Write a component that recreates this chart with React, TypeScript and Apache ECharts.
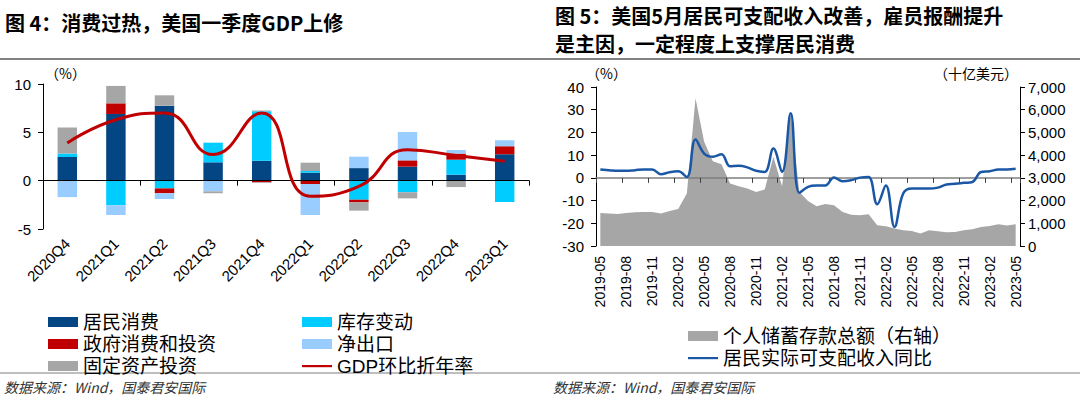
import React, { useEffect, useRef } from "react";
import * as echarts from "echarts";

// ---------- Left chart data (图4) ----------
const quarters = ["2020Q4", "2021Q1", "2021Q2", "2021Q3", "2021Q4", "2022Q1", "2022Q2", "2022Q3", "2022Q4", "2023Q1"];
const consumption = [2.45, 6.9, 7.76, 1.9, 2.07, 0.83, 1.3, 1.45, 0.62, 2.72];
const inventory = [0.35, -2.55, -0.8, 2.03, 5.1, 0.17, -1.97, -1.2, 1.55, -2.2];
const government = [0, 1.1, -0.5, 0, -0.2, -0.35, -0.27, 0.65, 0.63, 0.83];
const netExports = [-1.7, -1.0, -0.6, -1.1, -0.05, -3.2, 1.18, 2.93, 0.37, 0.62];
const fixedInvestment = [2.7, 1.8, 1.07, -0.2, 0.08, 0.86, -0.86, -0.63, -0.66, 0];
const gdpAnnualized = [3.9, 6.3, 7.0, 2.7, 7.0, -1.6, -0.6, 3.2, 2.6, 2.0];

// ---------- Right chart data (图5) ----------
const months = [
  "2019-05", "2019-06", "2019-07", "2019-08", "2019-09", "2019-10", "2019-11", "2019-12",
  "2020-01", "2020-02", "2020-03", "2020-04", "2020-05", "2020-06", "2020-07", "2020-08",
  "2020-09", "2020-10", "2020-11", "2020-12", "2021-01", "2021-02", "2021-03", "2021-04",
  "2021-05", "2021-06", "2021-07", "2021-08", "2021-09", "2021-10", "2021-11", "2021-12",
  "2022-01", "2022-02", "2022-03", "2022-04", "2022-05", "2022-06", "2022-07", "2022-08",
  "2022-09", "2022-10", "2022-11", "2022-12", "2023-01", "2023-02", "2023-03", "2023-04",
  "2023-05",
];
const savings = [
  1456, 1426, 1410, 1456, 1485, 1500, 1500, 1426, 1544, 1630, 2310, 6500, 4590, 3735, 3600, 2750,
  2630, 2530, 2380, 2485, 3930, 2630, 5840, 2380, 1985, 1750, 1850, 1795, 1500, 1380, 1350, 1400,
  910, 870, 765, 690, 660, 545, 690, 650, 600, 620, 690, 735, 840, 880, 955, 900, 955,
];
const realIncomeYoY = [
  3.7, 3.4, 3.1, 3.1, 3.4, 3.7, 3.7, 1.6, 2.5, 2.9, 0.4, 16.9, 10.7, 9.3, 10.4, 5.1,
  5.3, 4.6, 3.1, 2.6, 12.9, 2.6, 28.4, -6.6, -4.0, -3.4, -3.4, 0.15, -1.5, -1.0, 0.1, 0.4,
  -11.6, -3.4, -21.6, -6.9, -4.7, -4.7, -4.7, -4.3, -2.9, -2.6, -2.2, -1.8, 2.6, 2.9, 3.7, 3.7, 4.0,
];

const leftTicks = { min: -5, max: 10, interval: 5 };
const rightLeftTicks = { min: -30, max: 40, interval: 10 };
const rightRightTicks = { min: 0, max: 7000, interval: 1000 };

const NUM_FONT = "'Liberation Sans', Arial, sans-serif";
const CJK_FONT = "'Noto Sans CJK SC', sans-serif";
const LEGEND_FONT = "'Liberation Sans', 'Noto Sans CJK SC', sans-serif";

const C_CONS = "#044583";
const C_INV = "#00CCFF";
const C_GOV = "#C00000";
const C_NX = "#99CCFF";
const C_FIX = "#A6A6A6";
const C_GDP = "#C00000";
const C_SAVE = "#A6A6A6";
const C_INC = "#1A58A6";

// thin line legend icon (bounding box kept at 30x10 by the extra moveTo points)
const LINE_ICON = "path://M0,0 M30,10 M0,4 L30,4 L30,6.2 L0,6.2 Z";

export default function App() {
  const ref = useRef<HTMLDivElement>(null);

  useEffect(() => {
    if (!ref.current) return;
    const chart = echarts.init(ref.current, undefined, { renderer: "svg" });

    const axisLabelNum = { color: "#000", fontSize: 15, fontFamily: NUM_FONT };
    const legendText = { fontSize: 19, lineHeight: 20, color: "#000", fontFamily: LEGEND_FONT };

    const option: any = {
      animation: false,
      backgroundColor: "#fff",
      grid: [
        { left: 43, top: 84, width: 486, height: 145 },
        { left: 596, top: 87, width: 424, height: 159 },
      ],
      xAxis: [
        {
          type: "category", gridIndex: 0, data: quarters, position: "bottom",
          axisLine: { onZero: true, lineStyle: { color: "#000", width: 1.2 } },
          axisTick: { show: true, length: 5, lineStyle: { color: "#000" } },
          axisLabel: { show: false },
          z: 3,
        },
        {
          type: "category", gridIndex: 0, data: quarters, position: "bottom",
          axisLine: { show: false, onZero: false },
          axisTick: { show: false },
          axisLabel: { rotate: 45, margin: 12, interval: 0, ...axisLabelNum },
        },
        {
          type: "category", gridIndex: 1, data: months, position: "bottom",
          axisLine: { onZero: true, onZeroAxisIndex: 1, lineStyle: { color: "#7f7f7f", width: 1.5 } },
          axisTick: { show: true, interval: 2, length: 5, lineStyle: { color: "#404040" } },
          axisLabel: { show: false },
          z: 3,
        },
        {
          type: "category", gridIndex: 1, data: months, position: "bottom",
          axisLine: { show: false, onZero: false },
          axisTick: { show: false },
          axisLabel: { rotate: 90, margin: 10, interval: 2, color: "#000", fontSize: 14, fontFamily: NUM_FONT },
        },
      ],
      yAxis: [
        {
          type: "value", gridIndex: 0, ...leftTicks,
          axisLine: { show: true, lineStyle: { color: "#000" } },
          axisTick: { show: true, length: 5, lineStyle: { color: "#000" } },
          axisLabel: { margin: 12, ...axisLabelNum },
          splitLine: { show: false },
        },
        {
          type: "value", gridIndex: 1, position: "left", ...rightLeftTicks,
          axisLine: { show: true, lineStyle: { color: "#000" } },
          axisTick: { show: true, length: 5, lineStyle: { color: "#000" } },
          axisLabel: { margin: 12, ...axisLabelNum },
          splitLine: { show: false },
        },
        {
          type: "value", gridIndex: 1, position: "right", ...rightRightTicks,
          axisLine: { show: true, lineStyle: { color: "#000" } },
          axisTick: { show: true, length: 5, lineStyle: { color: "#000" } },
          axisLabel: {
            margin: 8, ...axisLabelNum,
            formatter: (v: number) => v.toLocaleString("en-US"),
          },
          splitLine: { show: false },
        },
      ],
      legend: [
        {
          orient: "vertical", left: 43, top: 307, itemWidth: 30, itemHeight: 10, itemGap: 2,
          selectedMode: false, textStyle: legendText,
          data: [
            { name: "居民消费", icon: "rect" },
            { name: "政府消费和投资", icon: "rect" },
            { name: "固定资产投资", icon: "rect" },
          ],
        },
        {
          orient: "vertical", left: 297, top: 307, itemWidth: 30, itemHeight: 10, itemGap: 2,
          selectedMode: false, textStyle: legendText,
          data: [
            { name: "库存变动", icon: "rect" },
            { name: "净出口", icon: "rect" },
            { name: "GDP环比折年率", icon: LINE_ICON },
          ],
        },
        {
          orient: "vertical", left: 683, top: 321, itemWidth: 30, itemHeight: 10, itemGap: 2,
          selectedMode: false, textStyle: legendText,
          data: [
            { name: "个人储蓄存款总额（右轴）", icon: "rect" },
            { name: "居民实际可支配收入同比", icon: LINE_ICON },
          ],
        },
      ],
      series: [
        { name: "居民消费", type: "bar", stack: "gdp", xAxisIndex: 0, yAxisIndex: 0, barWidth: "40%", data: consumption, itemStyle: { color: C_CONS } },
        { name: "库存变动", type: "bar", stack: "gdp", xAxisIndex: 0, yAxisIndex: 0, barWidth: "40%", data: inventory, itemStyle: { color: C_INV } },
        { name: "政府消费和投资", type: "bar", stack: "gdp", xAxisIndex: 0, yAxisIndex: 0, barWidth: "40%", data: government, itemStyle: { color: C_GOV } },
        { name: "净出口", type: "bar", stack: "gdp", xAxisIndex: 0, yAxisIndex: 0, barWidth: "40%", data: netExports, itemStyle: { color: C_NX } },
        { name: "固定资产投资", type: "bar", stack: "gdp", xAxisIndex: 0, yAxisIndex: 0, barWidth: "40%", data: fixedInvestment, itemStyle: { color: C_FIX } },
        {
          name: "GDP环比折年率", type: "line", xAxisIndex: 0, yAxisIndex: 0, data: gdpAnnualized,
          smooth: 0.5, symbol: "none", z: 5,
          lineStyle: { color: C_GDP, width: 3 }, itemStyle: { color: C_GDP },
        },
        {
          name: "个人储蓄存款总额（右轴）", type: "line", xAxisIndex: 2, yAxisIndex: 2, data: savings,
          symbol: "none", z: 1,
          lineStyle: { width: 0, color: C_SAVE }, itemStyle: { color: C_SAVE },
          areaStyle: { color: C_SAVE, opacity: 1 },
        },
        {
          name: "居民实际可支配收入同比", type: "line", xAxisIndex: 2, yAxisIndex: 1, data: realIncomeYoY,
          smooth: 0.4, symbol: "none", z: 5,
          lineStyle: { color: C_INC, width: 2.5 }, itemStyle: { color: C_INC },
        },
      ],
      graphic: [
        { type: "text", left: 5, top: 12, style: { text: "图 4：消费过热，美国一季度GDP上修", fontSize: 20, fontWeight: "bold", fontFamily: CJK_FONT, fill: "#000" } },
        { type: "text", left: 555, top: 5, style: { text: "图 5：美国5月居民可支配收入改善，雇员报酬提升", fontSize: 20, fontWeight: "bold", fontFamily: CJK_FONT, fill: "#000" } },
        { type: "text", left: 555, top: 33, style: { text: "是主因，一定程度上支撑居民消费", fontSize: 20, fontWeight: "bold", fontFamily: CJK_FONT, fill: "#000" } },
        { type: "line", shape: { x1: 0, y1: 59, x2: 1080, y2: 59 }, style: { stroke: "#595959", lineWidth: 1.5 } },
        { type: "line", shape: { x1: 0, y1: 373, x2: 1080, y2: 373 }, style: { stroke: "#7f7f7f", lineWidth: 1.2 } },
        { type: "text", left: 45, top: 66, style: { text: "（%）", fontSize: 14, fontFamily: CJK_FONT, fill: "#000" } },
        { type: "text", left: 586, top: 66, style: { text: "（%）", fontSize: 14, fontFamily: CJK_FONT, fill: "#000" } },
        { type: "text", right: 62, top: 66, style: { text: "（十亿美元）", fontSize: 14, fontFamily: CJK_FONT, fill: "#000" } },
        { type: "text", left: 4, top: 380, style: { text: "数据来源：Wind，国泰君安国际", fontSize: 14, fontStyle: "italic", fontFamily: CJK_FONT, fill: "#333" } },
        { type: "text", left: 553, top: 380, style: { text: "数据来源：Wind，国泰君安国际", fontSize: 14, fontStyle: "italic", fontFamily: CJK_FONT, fill: "#333" } },
      ],
    };

    chart.setOption(option);
    return () => chart.dispose();
  }, []);

  return <div ref={ref} style={{ position: "absolute", left: 0, top: 0, width: 1080, height: 398 }} />;
}
